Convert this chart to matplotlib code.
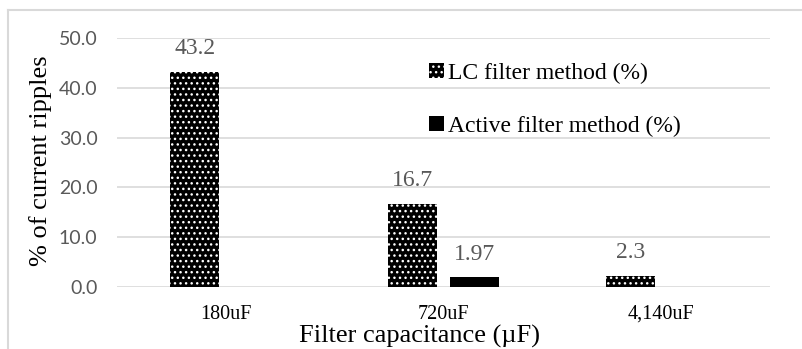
import numpy as np
import matplotlib
matplotlib.use("Agg")
import matplotlib.pyplot as plt
from matplotlib.lines import Line2D
from matplotlib.patches import Patch

# data
capacitors = ["180uF", "720uF", "4,140uF"]
lc_ripple = [43.2, 16.7, 2.3]
active_ripple = [None, 1.97, None]
lc_labels = ["43.2", "16.7", "2.3"]
active_labels = ["", "1.97", ""]
y_ticks = [0, 10, 20, 30, 40, 50]

serif = "Liberation Serif"
grid_gray = "#d9d9d9"
label_gray = "#595959"

fig = plt.figure(figsize=(8.02, 3.49), dpi=100)
ax = fig.add_axes([0.1459, 0.1777, 0.8142, 0.7134])

x = np.arange(len(capacitors))
w = 0.225
off = 0.1425

lc_vals = [v if v is not None else 0 for v in lc_ripple]
act_vals = [v if v is not None else 0 for v in active_ripple]

lc_bars = ax.bar(x - off, lc_vals, w, facecolor="black", edgecolor="white",
                 hatch="...", linewidth=0, zorder=3)
act_bars = ax.bar(x + off, act_vals, w, color="black", linewidth=0, zorder=3)

for b, txt in zip(lc_bars, lc_labels):
    ax.annotate(txt, (b.get_x() + b.get_width() / 2, b.get_height()),
                xytext=(0, 9), textcoords="offset points", ha="center", va="bottom",
                fontsize=17, family=serif, color=label_gray)
for b, txt in zip(act_bars, active_labels):
    if txt:
        ax.annotate(txt, (b.get_x() + b.get_width() / 2, b.get_height()),
                    xytext=(0, 9), textcoords="offset points", ha="center", va="bottom",
                    fontsize=17, family=serif, color=label_gray)

ax.set_xlim(-0.5, 2.5)
ax.set_ylim(0, 50)
ax.set_yticks(y_ticks)
ax.set_yticklabels([f"{t:.1f}" for t in y_ticks], family="Lato", fontsize=14, color=label_gray)
ax.set_xticks(x)
ax.set_xticklabels(capacitors, family=serif, fontsize=14.5)
ax.tick_params(axis="both", length=0)
ax.tick_params(axis="y", pad=14)
ax.tick_params(axis="x", pad=13)
ax.grid(axis="y", color=grid_gray, linewidth=1.2, zorder=0)
for s in ax.spines.values():
    s.set_visible(False)

ax.set_ylabel("% of current ripples", family=serif, fontsize=19)
ax.yaxis.set_label_coords(-0.099, 0.506)
ax.set_xlabel("Filter capacitance (\u00b5F)", family=serif, fontsize=19)
ax.xaxis.set_label_coords(0.464, -0.152)

handles = [Patch(facecolor="black", edgecolor="white", hatch="...", linewidth=0),
           Patch(facecolor="black", linewidth=0)]
leg = ax.legend(handles, ["LC filter method (%)", "Active filter method (%)"],
                loc="upper left", bbox_to_anchor=(0.446, 0.985), frameon=False,
                prop={"family": serif, "size": 17}, handlelength=0.6, handleheight=0.6,
                handletextpad=0.2, labelspacing=1.35)

# chart frame (light gray, open at right and bottom as in the source)
fig.add_artist(Line2D([8 / 802, 8 / 802], [0, 1 - 10 / 349], color=grid_gray, linewidth=1.5,
                      transform=fig.transFigure))
fig.add_artist(Line2D([8 / 802, 1], [1 - 10 / 349, 1 - 10 / 349], color=grid_gray, linewidth=1.5,
                      transform=fig.transFigure))

fig.savefig("out.png", dpi=100)
